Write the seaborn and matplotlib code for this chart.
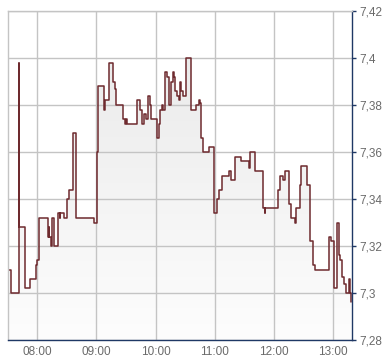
import numpy as np
import pandas as pd
import matplotlib
matplotlib.use("Agg")
import matplotlib.pyplot as plt
import seaborn as sns
from matplotlib.patches import PathPatch
from matplotlib.ticker import FixedLocator, FuncFormatter

times = ["07:30:20", "07:33:00", "07:41:00", "07:41:40", "07:47:30", "07:53:00", "07:58:20",
         "08:00:00", "08:01:30", "08:11:00", "08:11:30", "08:12:00", "08:13:30", "08:14:30",
         "08:17:00", "08:21:00", "08:23:00", "08:23:30", "08:27:00", "08:30:30", "08:32:30",
         "08:36:30", "08:39:00", "08:58:00", "09:01:00", "09:02:00", "09:07:30", "09:08:30",
         "09:12:30", "09:17:00", "09:19:00", "09:20:00", "09:27:30", "09:29:00", "09:30:00",
         "09:31:30", "09:41:30", "09:44:00", "09:46:00", "09:48:00", "09:50:00", "09:52:30",
         "09:54:00", "09:55:00", "10:01:00", "10:03:30", "10:05:00", "10:07:00", "10:08:00",
         "10:10:00", "10:12:00", "10:14:00", "10:16:00", "10:17:30", "10:19:00", "10:20:00",
         "10:22:00", "10:23:30", "10:25:00", "10:26:00", "10:28:00", "10:31:00", "10:36:30",
         "10:41:00", "10:44:00", "10:45:00", "10:46:00", "10:48:30", "10:54:00", "10:59:30",
         "11:02:00", "11:04:00", "11:07:00", "11:15:00", "11:16:30", "11:20:30", "11:27:00",
         "11:35:00", "11:35:30", "11:41:00", "11:49:00", "11:51:00", "11:51:30", "12:04:00",
         "12:06:00", "12:09:30", "12:11:30", "12:15:30", "12:17:30", "12:21:00", "12:23:00",
         "12:26:30", "12:28:00", "12:33:30", "12:37:00", "12:39:30", "12:42:00", "12:56:00",
         "12:58:30", "13:01:30", "13:04:30", "13:06:30", "13:07:00", "13:09:00", "13:11:00",
         "13:13:30", "13:16:30", "13:17:30", "13:18:40"]

prices = [7.310, 7.300, 7.398, 7.328, 7.302, 7.306, 7.312,
          7.314, 7.332, 7.324, 7.328, 7.324, 7.320, 7.332,
          7.320, 7.334, 7.332, 7.334, 7.332, 7.340, 7.344,
          7.368, 7.332, 7.330, 7.360, 7.388, 7.378, 7.382,
          7.398, 7.390, 7.387, 7.380, 7.374, 7.372, 7.374,
          7.372, 7.382, 7.378, 7.372, 7.376, 7.374, 7.384,
          7.380, 7.374, 7.366, 7.372, 7.378, 7.380, 7.378,
          7.394, 7.392, 7.380, 7.390, 7.394, 7.392, 7.386,
          7.384, 7.382, 7.390, 7.386, 7.384, 7.400, 7.378,
          7.380, 7.382, 7.381, 7.366, 7.360, 7.362, 7.334,
          7.340, 7.344, 7.350, 7.352, 7.348, 7.358, 7.356,
          7.353, 7.360, 7.352, 7.336, 7.334, 7.336, 7.344,
          7.350, 7.348, 7.352, 7.338, 7.332, 7.330, 7.336,
          7.346, 7.354, 7.346, 7.322, 7.312, 7.310, 7.324,
          7.322, 7.302, 7.330, 7.316, 7.314, 7.307, 7.304,
          7.300, 7.306, 7.300, 7.296]

x_ticks = ["08:00", "09:00", "10:00", "11:00", "12:00", "13:00"]
y_ticks = [7.28, 7.30, 7.32, 7.34, 7.36, 7.38, 7.40, 7.42]


def to_hours(s):
    parts = [int(p) for p in s.split(":")]
    while len(parts) < 3:
        parts.append(0)
    return parts[0] + parts[1] / 60 + parts[2] / 3600


df = pd.DataFrame({"t": [to_hours(s) for s in times], "price": prices})

sns.set_style("white")
plt.rcParams["font.family"] = ["Liberation Sans", "DejaVu Sans"]

fig = plt.figure(figsize=(3.9, 3.64), dpi=100)
ax = fig.add_axes([8 / 390, 24 / 364, 344 / 390, 329 / 364])

x0, x1 = to_hours("07:30:20"), to_hours("13:19:20")
y0, y1 = 7.28, 7.42

# gradient fill under the step line (darker at top, nearly white at bottom)
coll = ax.fill_between(df["t"], df["price"], y0, step="post", facecolor="none", edgecolor="none")
patch = PathPatch(coll.get_paths()[0], transform=ax.transData, facecolor="none", edgecolor="none")
ax.add_patch(patch)
grad = np.linspace(0, 1, 256).reshape(-1, 1)
cmap = matplotlib.colors.LinearSegmentedColormap.from_list("g", ["#e8e8e8", "#fdfdfd"])
im = ax.imshow(grad, extent=[x0, x1, y0, y1], aspect="auto", cmap=cmap, origin="upper", zorder=0.5)
im.set_clip_path(patch)

sns.lineplot(data=df, x="t", y="price", ax=ax, drawstyle="steps-post", color="#6e2a2e",
             linewidth=1.1, estimator=None, sort=True, zorder=3)

ax.set_xlim(x0, x1)
ax.set_ylim(y0, y1)
ax.set_xlabel("")
ax.set_ylabel("")

ax.xaxis.set_major_locator(FixedLocator([to_hours(s) for s in x_ticks]))
ax.xaxis.set_major_formatter(FuncFormatter(lambda v, p: f"{int(round(v)):02d}:00"))
ax.yaxis.set_major_locator(FixedLocator(y_ticks))
ax.yaxis.set_major_formatter(FuncFormatter(lambda v, p: f"{round(v, 2):g}".replace(".", ",")))
ax.yaxis.tick_right()

ax.grid(True, color="#c4c4c4", linewidth=1.0, zorder=1)
ax.set_axisbelow(False)
for gl in ax.get_xgridlines() + ax.get_ygridlines():
    gl.set_zorder(1)

navy = "#1f3865"
ax.spines["right"].set_color(navy)
ax.spines["bottom"].set_color(navy)
ax.spines["left"].set_color("#c4c4c4")
ax.spines["top"].set_color("#c4c4c4")
for s in ax.spines.values():
    s.set_linewidth(1.0)
    s.set_zorder(4)

ax.tick_params(axis="y", which="major", right=True, left=False, length=3, width=1,
               color=navy, labelsize=8.5, labelcolor="#6a6a6a", pad=2)
ax.tick_params(axis="x", which="major", bottom=False, length=0, labelsize=8.5,
               labelcolor="#6a6a6a", pad=4)

fig.savefig("out.png", dpi=100)
